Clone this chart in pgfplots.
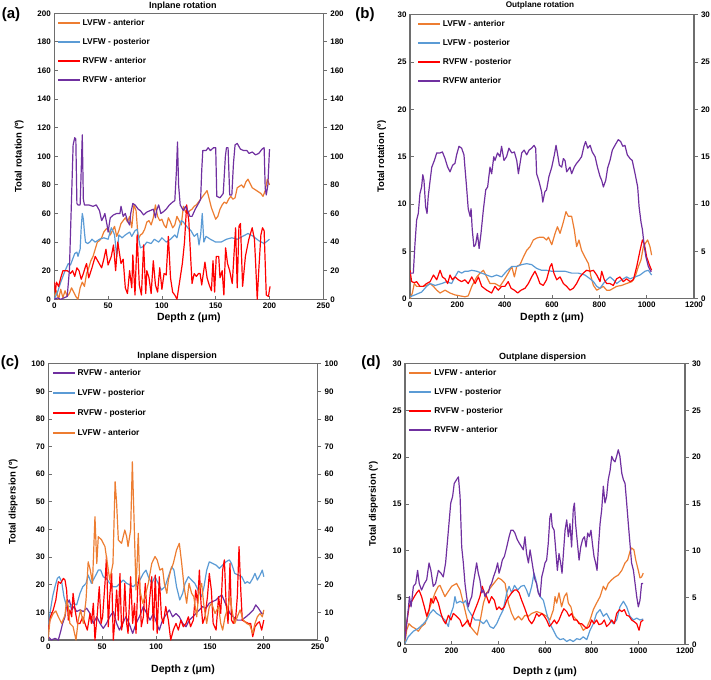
\documentclass[border=0pt]{standalone}
\usepackage{fontspec}
\setmainfont{Liberation Sans}
\usepackage{pgfplots}
\pgfplotsset{compat=1.18}
\definecolor{cOr}{RGB}{237,125,49}
\definecolor{cBl}{RGB}{91,155,213}
\definecolor{cRd}{RGB}{255,0,0}
\definecolor{cPu}{RGB}{112,48,160}
\definecolor{frm}{RGB}{110,110,110}
\pgfplotsset{
  base/.style={scale only axis, anchor=south west,
    axis line style={draw=frm, line width=1.1pt},
    tick style={draw=frm, line width=0.8pt},
    major tick length=3.5pt, tick align=inside,
    xtick pos=bottom, ytick pos=left,
    ticklabel style={font=\fontsize{8}{9}\selectfont\bfseries, text=black},
    /pgf/number format/assume math mode=true,
    /pgf/number format/1000 sep={},
    legend cell align=left,
    legend style={draw=none, fill=none, inner sep=0pt, font=\fontsize{8.4}{10}\selectfont\bfseries, row sep=9pt, column sep=2pt, nodes={inner sep=1pt, text height=6.2pt, text depth=1.8pt}},
    legend image code/.code={\fill[##1, draw=none] (0pt,-1pt) rectangle (22pt,1pt);},
    every axis plot/.append style={line width=1.2pt, no markers, line join=round},
    xlabel style={font=\fontsize{10.5}{12}\selectfont\bfseries, anchor=center},
    ylabel style={font=\fontsize{9.5}{11}\selectfont\bfseries, anchor=center},
  },
  rightax/.style={scale only axis, anchor=south west, hide x axis, axis y line*=right,
    axis line style={draw=frm, line width=1.1pt},
    tick style={draw=frm, line width=0.8pt},
    major tick length=3.5pt, tick align=outside,
    ticklabel style={font=\fontsize{8}{9}\selectfont\bfseries, text=black},
    /pgf/number format/assume math mode=true,
    /pgf/number format/1000 sep={},
  },
}
\begin{document}
\begin{tikzpicture}
\useasboundingbox (0,0) rectangle (711pt,679pt);
% ---------------- (a)
\begin{axis}[base, at={(54.3pt,379.7pt)}, width=269pt, height=286pt,
  xmin=0, xmax=250, ymin=0, ymax=200, xtick={0,50,...,250}, ytick={0,20,...,200},
  xlabel={Depth z (μm)}, xlabel style={at={(axis description cs:0.5,-0.065)}},
  ylabel={Total rotation (º)}, ylabel style={at={(axis description cs:-0.131,0.5)}},
  legend style={at={(axis description cs:0.012,0.984)}, anchor=north west}]
\addplot[cOr] coordinates {(0,2)(2,6)(4,0)(6,7)(8,1)(10,6)(12,2)(14,4)(16,8)(18,5)(20,2)(22,0)(24,8)(26,12)(28,9)(30,18)(32,22)(34,27)(36,30)(38,35)(40,40)(42,41)(44,43)(46,47)(48,49)(50,50)(52,45)(54,48)(56,51)(58,44)(60,48)(62,53)(64,55)(66,57)(68,54)(70,58)(72,50)(74,66)(76,62)(78,42)(80,45)(82,46)(84,49)(86,54)(88,55)(90,52)(92,57)(94,66)(96,58)(98,55)(100,56)(102,52)(104,50)(106,57)(108,54)(110,50)(112,52)(114,58)(116,55)(118,52)(120,65)(122,61)(124,60)(126,62)(128,63)(130,65)(132,66)(134,68)(136,70)(138,72)(140,74)(142,76)(144,70)(146,64)(148,60)(150,56)(152,58)(154,63)(156,66)(158,68)(160,67)(162,70)(164,72)(166,70)(168,71)(170,78)(172,79)(174,80)(176,78)(178,82)(180,84)(182,81)(184,78)(186,77)(188,76)(190,75)(192,74)(194,72)(196,76)(198,84)(200,80)};
\addlegendentry{LVFW - anterior}
\addplot[cBl] coordinates {(0,0)(3,5)(6,12)(8,16)(10,20)(13,25)(15,24)(17,28)(19,32)(21,33)(22,30)(24,35)(25,50)(26,60)(27,56)(28,47)(29,40)(31,39)(33,40)(35,42)(38,40)(42,42)(46,43)(50,42)(53,50)(55,47)(56,45)(58,30)(60,45)(63,43)(66,45)(70,47)(72,44)(75,48)(77,49)(79,40)(80,36)(83,37)(86,40)(90,39)(93,42)(97,40)(100,43)(104,40)(108,42)(112,45)(114,43)(116,50)(118,55)(120,54)(124,50)(127,48)(130,44)(133,46)(134.5,38)(136,45)(137.5,60)(139,40)(141,44)(145,42)(150,40)(155,40)(160,42)(165,43)(170,42)(175,44)(180,46)(185,44)(190,41)(195,39)(200,42)};
\addlegendentry{LVFW - posterior}
\addplot[cRd] coordinates {(0,12)(1,5)(2,12)(4,9)(6,15)(8,20)(10,20)(12,20)(14,19)(15,18)(17,20)(19,16)(21,22)(23,20)(25,14)(27,18)(29,23)(30,25)(32,15)(35,22)(38,30)(41,26)(44,22)(46,28)(48,35)(50,24)(53,30)(55,38)(57,20)(59,40)(62,25)(64,28)(66,8)(68,4)(70,20)(72,8)(73,31)(75,3)(77,45)(79,10)(81,3)(83,38)(85,4)(86,20)(88,15)(90,4)(92,27)(94,10)(96,5)(98,22)(100,7)(102,18)(104,17)(106,44)(108,15)(110,5)(112,3)(114,0)(117,15)(119,25)(121,40)(123,66)(125,55)(126,40)(128,11)(130,18)(132,16)(134,18)(135.5,18)(137,10)(140,26)(142,15)(144,10)(146,6)(147.5,27)(149,5)(150.5,30)(152.8,30)(154,15)(156,20)(157.6,3)(159.2,36)(161,25)(163,20)(165.4,11)(168.5,50)(170,8)(171.6,51)(173,53)(175,9)(177.6,30)(180.8,42)(183.9,50)(186,42)(187,27)(188.6,0)(190,20)(192,45)(193.5,50)(195,48)(197,3)(199,2)(200.5,9)};
\addlegendentry{RVFW - anterior}
\addplot[cPu] coordinates {(0,0)(3,1)(6,0)(9,1)(12,2)(14,20)(16,70)(17.5,108)(19,113)(20,112)(21,67)(22,66)(24,66)(25,90)(26,115)(27,70)(28,66)(32,66)(36,65)(39,66)(42,62)(44,55)(46,58)(47,60)(49,52)(50,47)(52,57)(55,59)(58,60)(61,60)(62,65)(64,58)(66,60)(68,55)(70,52)(71,60)(73,67)(75,66)(78,63)(80,62)(83,59)(86,61)(89,62)(92,63)(94,57)(95,62)(97,66)(99,60)(101,61)(104,63)(107,66)(110,68)(112,69)(113.5,90)(114.5,110)(115.5,80)(117,66)(120,62)(122,65)(124,62)(126,58)(128,58)(131,63)(134,67)(136,70)(137,90)(138,104)(141,104)(143,106)(145,104)(148,106)(150,106)(151,72)(154,71)(157,74)(159,100)(160,106)(161.5,106)(163,73)(165,73)(166.5,95)(168,108)(170,109)(173,105)(176,104)(179,104)(181,102)(184,103)(187,101)(190,102)(193,105)(195,106)(196,78)(197,73)(198.5,80)(200,105)};
\addlegendentry{RVFW - anterior}
\end{axis}
\begin{axis}[rightax, at={(54.3pt,379.7pt)}, width=269pt, height=286pt,
  xmin=0, xmax=250, ymin=0, ymax=200, ytick={0,20,...,200}]
\end{axis}
% ---------------- (b)
\begin{axis}[base, at={(410pt,380.3pt)}, width=284pt, height=284pt,
  xmin=0, xmax=1200, ymin=0, ymax=30, xtick={0,200,...,1200}, ytick={0,5,...,30},
  xlabel={Depth z (μm)}, xlabel style={at={(axis description cs:0.5,-0.067)}},
  ylabel={Total rotation (º)}, ylabel style={at={(axis description cs:-0.0997,0.5)}},
  legend style={at={(axis description cs:0.027,0.984)}, anchor=north west}]
\addplot[cOr] coordinates {(0,0)(10,0.6)(18,1.6)(28,1.3)(42,1.3)(56,1.3)(70,1.4)(85,1.6)(99,1.3)(113,0.9)(127,0.6)(148,0.9)(169,0.6)(190,0.4)(211,0.3)(232,0.2)(246,0.3)(261,1.3)(282,2.3)(296,2.7)(310,3.0)(324,2.3)(338,1.6)(359,1.6)(380,1.3)(401,2.1)(415,2.7)(430,3.4)(441,2.3)(451,3.4)(465,3.6)(479,4.4)(493,5.1)(507,5.5)(521,6.2)(535,6.4)(549,6.5)(563,6.5)(577,6.2)(585,6.5)(599,5.7)(613,6.9)(623,7.6)(634,6.9)(648,8.1)(659,9.2)(669,8.7)(683,8.7)(694,7.3)(704,5.5)(714,6.2)(725,5.1)(739,4.4)(754,3.7)(765,2.3)(775,1.4)(789,0.9)(803,1.1)(817,1.3)(831,0.9)(845,0.9)(859,1.1)(873,1.3)(894,1.4)(915,1.6)(937,1.8)(951,2.3)(965,3.4)(976,4.1)(986,5.5)(993,5.8)(1004,6.2)(1014,5.5)(1021,4.6)};
\addlegendentry{LVFW - anterior}
\addplot[cBl] coordinates {(0,0.2)(21,0.4)(49,0.7)(70,1.3)(85,1.6)(106,1.4)(134,1.6)(155,1.8)(176,1.6)(190,2.3)(204,2.9)(218,2.7)(232,2.9)(246,2.9)(261,3.0)(282,2.9)(303,2.7)(324,2.5)(345,2.3)(366,2.5)(387,2.3)(408,2.9)(430,3.4)(451,3.4)(472,3.6)(493,3.7)(514,3.6)(535,3.2)(556,3.0)(577,3.0)(599,2.9)(627,2.9)(655,2.9)(683,2.7)(711,2.7)(739,2.5)(761,2.1)(775,1.8)(789,1.3)(803,1.1)(817,1.6)(831,2.0)(845,2.3)(859,2.0)(873,1.6)(894,2.0)(915,2.3)(930,2.1)(951,2.3)(972,2.5)(993,2.9)(1007,3.0)(1021,2.5)};
\addlegendentry{LVFW - posterior}
\addplot[cRd] coordinates {(0,3.0)(7,1.8)(18,1.7)(28,1.8)(42,1.3)(56,1.3)(70,1.6)(85,1.8)(99,2.5)(113,2.0)(127,3.0)(137,2.3)(148,2.1)(159,1.6)(169,2.5)(179,2.0)(190,2.3)(204,2.0)(218,1.8)(232,2.0)(246,1.6)(261,2.3)(275,1.6)(289,2.3)(303,1.3)(324,0.9)(345,0.6)(359,1.3)(373,0.9)(387,1.3)(401,1.3)(415,1.8)(427,1.1)(441,0.9)(455,0.6)(469,0.9)(486,1.1)(500,1.6)(514,2.3)(528,2.9)(539,2.3)(549,1.6)(563,1.4)(577,2.0)(592,3.4)(599,3.7)(608,2.7)(620,2.0)(634,2.3)(648,1.6)(662,1.3)(676,0.9)(690,1.1)(704,1.6)(718,2.3)(732,2.7)(746,3.0)(761,2.9)(775,3.0)(789,2.5)(803,1.8)(810,2.9)(821,2.0)(831,1.6)(845,1.6)(859,1.4)(873,2.1)(887,2.3)(901,1.8)(915,2.1)(930,1.8)(944,2.0)(958,3.4)(972,5.1)(982,6.2)(990,5.8)(1000,4.4)(1014,3.4)(1021,3.0)};
\addlegendentry{RVFW - posterior}
\addplot[cPu] coordinates {(0,2.7)(14,2.7)(21,5.8)(28,8.3)(35,9)(42,11.1)(49,11.8)(54,13.1)(59,12.5)(66,9.7)(72,9)(77,10.8)(85,12.5)(92,13.9)(103,14.6)(113,15.4)(127,15.4)(137,15.5)(148,14.8)(159,13.9)(169,13.4)(180,14.1)(190,14.3)(197,15.2)(207,16.1)(218,15.9)(228,15.2)(232,13.9)(239,11.8)(246,9.5)(254,8.7)(258,9.5)(263,7.3)(270,5.5)(277,5.7)(285,6.9)(292,5.3)(300,6.9)(310,9.4)(320,11.5)(328,11.8)(338,13.9)(345,13.2)(354,15)(359,14.6)(370,15.4)(380,15)(387,16.1)(397,14.6)(408,15)(418,15.9)(430,15.4)(441,15.5)(451,14.6)(458,13.2)(465,14.3)(472,15.4)(482,15.7)(493,15.2)(503,15.7)(514,15.9)(524,16.2)(531,15.9)(535,13.2)(545,12.4)(556,11.3)(561,10.2)(570,11.3)(577,11.5)(587,12.9)(599,13.9)(610,15.2)(617,16.2)(624,15.2)(631,14.1)(641,13.9)(648,14.8)(655,14.6)(662,13.4)(676,13.9)(683,13.2)(694,13.9)(704,14.3)(714,14.6)(725,15)(735,16.1)(742,16.6)(751,15.9)(761,16.2)(770,15.5)(782,15)(792,13.9)(803,12.9)(810,12.5)(817,11.8)(827,12.5)(835,13.8)(845,14.6)(855,15.7)(866,16.2)(880,16.8)(890,16.6)(899,16.1)(908,16.2)(918,15.2)(930,14.8)(939,14.6)(951,13.2)(962,11.8)(968,9.7)(976,8.1)(982,7.3)(990,5.5)(997,4.4)(1007,3.4)(1017,2.9)(1021,2.9)};
\addlegendentry{RVFW anterior}
\end{axis}
\begin{axis}[rightax, at={(410pt,380.3pt)}, width=284pt, height=284pt,
  xmin=0, xmax=1200, ymin=0, ymax=30, ytick={0,5,...,30}]
\end{axis}
% ---------------- (c)
\begin{axis}[base, at={(48.3pt,39pt)}, width=269.4pt, height=276.3pt,
  xmin=0, xmax=250, ymin=0, ymax=100, xtick={0,50,...,250}, ytick={0,10,...,100},
  xlabel={Depth z (μm)}, xlabel style={at={(axis description cs:0.5,-0.109)}},
  ylabel={Total dispersion (º)}, ylabel style={at={(axis description cs:-0.13,0.5)}},
  legend style={at={(axis description cs:0.015,0.9855)}, anchor=north west, row sep=10pt}]
\addplot[cPu] coordinates {(0,1.2)(3,0)(6.2,0.6)(9.3,0)(11.4,3)(13.3,6)(15.5,8.4)(17,12.7)(19.5,14.5)(21.7,10.9)(23.8,12.1)(26.3,10.3)(29.4,10.9)(32.5,10.3)(35.6,11.5)(38.7,9.6)(41.8,6)(45,8.4)(48,6)(51,4.2)(54,6)(57,8.4)(60.3,10.3)(63.4,6)(66,3.6)(69,6)(72,8.4)(75,6)(78.3,2.4)(81.4,6)(84.5,8.4)(88.2,12.1)(91.3,9.6)(94.4,7.2)(97.5,9.6)(100.6,6)(103,3.6)(106,7.2)(109,9)(112.3,10.9)(115.4,8.4)(118.5,9.6)(121.6,8.4)(124.7,6)(127.8,4.8)(130.9,7.2)(134,8.4)(137,9.6)(140.2,10.9)(143.3,12.1)(146.3,11.5)(149.4,13.3)(152.5,13.9)(155.7,14.5)(158.8,15.7)(161,16.3)(163,14.5)(165.5,12.1)(168.6,9.6)(171.7,8.4)(175.4,7.2)(179.5,7.2)(183.5,8.4)(187,9.6)(190.3,10.9)(192.5,12.7)(195,11.5)(198,9.6)(200,9.6)};
\addlegendentry{RVFW - anterior}
\addplot[cBl] coordinates {(0,3.6)(1.5,9.6)(4,15.7)(6.2,19.3)(8.4,22.3)(10.2,22.9)(12.4,21.1)(14.5,15.7)(17,12.1)(20,12.1)(23,13.3)(26.3,12.7)(29.4,16.9)(32,19.3)(35,20.5)(37,23.5)(40,20.5)(43.3,22.9)(46.4,25.3)(48.6,25.3)(51,22.9)(54,22.3)(57,20.5)(60,19.3)(63.4,19.3)(66.5,20.5)(69.6,21.7)(72.7,20.5)(75.8,19.9)(79,19.3)(82,20.5)(85,21.7)(88.2,24.1)(90.7,25.3)(92.8,22.9)(96,20.5)(99,22.9)(102,20.5)(105,18.1)(108.3,19.3)(111.4,22.9)(114.5,26.5)(116.6,25.3)(119,19.3)(122,14.5)(124.7,16.9)(126.9,20.5)(130,22.9)(133,21.7)(136,20.5)(139,18.1)(142.3,15.7)(144.5,19.3)(147,25.3)(149.4,28.3)(152.5,27.7)(155.7,27.1)(158.8,25.9)(161.8,27.1)(164.9,28.3)(168,29)(170,27.7)(173,24.1)(176.4,23.5)(179.5,22.9)(182.5,20.5)(184.7,21.1)(187,20.5)(189.7,22.3)(191.8,24.1)(194,21.7)(196.5,23.5)(198.6,25.3)(200,22.9)};
\addlegendentry{LVFW - posterior}
\addplot[cRd] coordinates {(0,3.6)(2,8.4)(4.6,10.9)(7,14.5)(9.3,21.1)(11.4,20.5)(14,22.3)(15.5,21.7)(17,18.1)(18.6,7.2)(20,10.9)(21.7,8.4)(23,16.9)(24.8,10.9)(27,6)(29.4,6)(32,8.4)(34,6)(36.2,3.6)(38.7,9.6)(40,6)(41.8,13.3)(43.3,0)(45.5,9.6)(47.3,19.3)(49,6)(50.4,8.4)(52.6,20.5)(54,30.2)(55.7,4.8)(57,15.7)(58.8,24.1)(60.3,0)(62,8.4)(63.4,18.1)(65,7.2)(66.5,24.1)(68,3.6)(69.6,7.2)(71,20.5)(72.7,6)(74,2.4)(76.4,22.9)(78.3,6)(80,13.3)(81.4,2.4)(83,19.3)(84.5,23.5)(86.3,4.8)(88.2,8.4)(90,20.5)(92,6)(93.7,13.3)(96,22.9)(97.5,3.6)(99.3,23.5)(101,2.4)(103,22.9)(105,8.4)(106.7,6)(109,12.1)(111.4,7.2)(113.6,0)(116,3.6)(118.5,6)(120.7,3.6)(123,7.2)(125.3,4.8)(127.8,6)(130,8.4)(132,4.8)(134.6,7.2)(136.8,18.1)(138.6,13.3)(140.2,25.3)(141.7,13.3)(143.3,6)(145.4,8.4)(147.7,15.7)(149.4,24.1)(151.3,18.1)(153,6)(155.7,3.6)(158,15.7)(160,9.6)(161.8,25.3)(163.4,29)(165,13.3)(166.8,6)(168.6,27.7)(170,7.2)(171.7,6)(174,8.4)(175.4,15.7)(177,33.8)(178.6,18.1)(180,7.2)(182.5,6.6)(185.6,6)(187.8,6)(189.7,1.2)(191.8,4.8)(194,6)(195.9,6.6)(198,3.6)(200,7.2)};
\addlegendentry{RVFW - posterior}
\addplot[cOr] coordinates {(0,0.6)(1.5,7)(4.6,9.6)(7,10.5)(9.3,8.4)(12.4,6)(15.5,9)(17,14.5)(18.6,12)(20,6)(23,4.8)(25.7,0)(27.8,7.2)(30,10.9)(32.5,6)(35,14.5)(37,28.3)(39,25.3)(41,20.5)(43.3,44.6)(45,27.7)(46.4,37.4)(49.5,36.2)(52.6,33.8)(54.8,27.7)(57,21.7)(60,27.7)(62,57.3)(63.4,49.5)(65,36.2)(68,35)(71,39.8)(72.7,37.4)(74,33.8)(76.4,39.8)(78,64.5)(79.5,44.6)(81.4,18.1)(83.5,38.6)(85,18.1)(87.6,13.3)(89.7,15.7)(92.8,20.5)(96,27.7)(99,30.2)(101,29)(103.6,25.3)(106,25.9)(107.7,20.5)(110,16.9)(111.4,21.7)(113.6,25.3)(116,27.7)(119,32.6)(121.6,35)(123.8,27.7)(126,19.3)(128.4,13.3)(130.6,20.5)(133,16.9)(135,15.7)(137.7,8.4)(140,18.1)(142.3,20.5)(144.5,12.1)(147,6)(149.4,12.1)(151.6,13.3)(154.7,9.6)(158,12.1)(160,6)(161.8,3.6)(164,8.4)(166,10.9)(168.6,15.7)(171,9.6)(173,6)(175.4,8.4)(178,10.9)(181,7.2)(184,6)(187,5.4)(189.7,2.4)(191.8,6)(194,8.4)(196.5,9.6)(198.6,8.4)(200,10.9)};
\addlegendentry{LVFW - anterior}
\end{axis}
\begin{axis}[rightax, at={(48.3pt,39pt)}, width=269.4pt, height=276.3pt,
  xmin=0, xmax=250, ymin=0, ymax=100, ytick={0,10,...,100}]
\end{axis}
% ---------------- (d)
\begin{axis}[base, at={(405pt,34.7pt)}, width=280pt, height=280.6pt,
  xmin=0, xmax=1200, ymin=0, ymax=30, xtick={0,200,...,1200}, ytick={0,5,...,30},
  xlabel={Depth z (μm)}, xlabel style={at={(axis description cs:0.5,-0.098)}},
  ylabel={Total dispersion (º)}, ylabel style={at={(axis description cs:-0.113,0.5)}},
  legend style={at={(axis description cs:0.015,0.9836)}, anchor=north west}]
\addplot[cOr] coordinates {(0,0.1)(7,1.5)(17,2.2)(29,1.9)(43,1.7)(57,1.4)(71,1.9)(86,2.2)(100,3.3)(107,4.0)(129,5.5)(143,6.2)(150,6.3)(171,5.1)(200,6.2)(221,6.5)(236,5.8)(250,4.4)(271,2.2)(293,1.5)(310,1.0)(322,2.5)(336,4.4)(350,5.5)(371,6.2)(393,6.9)(400,7.1)(414,6.9)(429,6.5)(443,4.4)(457,3.3)(471,2.6)(486,3.0)(500,2.6)(514,3.1)(529,3.0)(543,3.3)(564,3.5)(586,3.3)(607,3.0)(621,2.6)(636,3.7)(643,5.1)(650,4.4)(660,5.5)(671,4.0)(683,5.1)(693,5.5)(700,4.4)(711,4.0)(721,3.0)(736,2.6)(750,2.2)(764,1.5)(779,1.8)(793,2.6)(807,3.7)(821,4.4)(836,5.1)(850,6.2)(860,5.8)(871,6.5)(886,6.9)(900,7.2)(914,7.4)(929,7.9)(943,8.7)(954,9.0)(964,9.9)(971,10.3)(981,10.1)(989,9.0)(1000,7.9)(1007,7.1)(1014,7.2)(1021,7.6)};
\addlegendentry{LVFW - anterior}
\addplot[cBl] coordinates {(0,0.1)(14,0.8)(36,1.4)(57,1.7)(79,2.2)(93,2.6)(107,3.3)(121,3.7)(136,3.3)(154,3.0)(171,2.6)(186,1.9)(193,3.0)(207,4.0)(214,5.1)(221,4.4)(236,4.6)(250,4.4)(260,4.7)(271,3.7)(286,3.1)(300,2.6)(317,2.6)(336,2.2)(350,2.6)(364,1.9)(379,1.7)(393,2.2)(407,3.0)(421,3.7)(436,5.5)(446,6.2)(457,5.5)(469,6.3)(483,5.8)(497,6.2)(511,6.3)(521,5.8)(531,5.1)(543,6.2)(553,7.6)(561,6.9)(569,5.8)(579,5.1)(593,4.7)(607,3.3)(621,2.2)(636,1.5)(650,0.8)(664,0.5)(679,0.6)(693,0.3)(707,0.5)(721,0.3)(736,0.6)(750,0.5)(764,0.8)(779,0.5)(793,1.5)(807,2.2)(821,3.3)(836,3.7)(850,3.0)(864,3.3)(879,2.6)(893,2.2)(907,2.6)(921,4.0)(936,4.6)(950,4.0)(964,3.0)(979,2.6)(993,2.8)(1007,2.6)(1021,2.7)};
\addlegendentry{LVFW - posterior}
\addplot[cRd] coordinates {(0,0.8)(7,2.2)(17,4.0)(29,4.6)(40,5.1)(50,5.5)(60,5.8)(71,5.1)(83,4.0)(93,3.0)(103,3.7)(111,4.9)(121,4.4)(131,5.1)(143,4.4)(154,3.3)(164,2.6)(174,2.2)(186,3.1)(197,2.6)(207,3.3)(221,3.0)(236,2.6)(246,1.9)(257,2.2)(269,2.6)(279,1.9)(289,3.0)(300,3.7)(311,4.4)(321,5.1)(331,6.2)(340,5.5)(350,5.1)(360,4.4)(371,5.1)(383,4.7)(393,3.7)(403,4.0)(414,3.7)(426,4.0)(436,4.7)(446,5.1)(457,5.5)(469,5.8)(479,5.8)(489,5.5)(500,4.7)(511,4.0)(521,3.3)(531,2.6)(543,2.2)(553,2.6)(564,3.3)(574,3.0)(586,3.3)(597,3.0)(607,2.6)(619,1.9)(629,2.2)(640,2.6)(650,2.2)(660,2.6)(671,3.3)(681,3.8)(693,3.5)(703,3.0)(714,3.3)(724,2.6)(736,2.6)(746,2.2)(757,2.2)(769,1.9)(779,1.7)(790,1.9)(800,2.6)(810,2.2)(821,2.6)(831,2.1)(843,2.2)(854,2.6)(864,1.9)(876,2.2)(886,2.6)(897,2.2)(907,3.3)(919,3.7)(929,3.5)(940,3.7)(950,3.1)(961,3.0)(971,2.6)(983,2.4)(993,2.2)(1003,1.5)(1011,2.4)(1021,2.6)};
\addlegendentry{RVFW - posterior}
\addplot[cPu] coordinates {(0,0.5)(7,2.2)(14,3.7)(19,5.1)(26,4.0)(36,6.2)(46,6.5)(54,7.9)(61,6.5)(71,5.8)(83,6.5)(93,6.9)(103,8.7)(111,7.9)(121,6.2)(131,6.5)(143,7.9)(154,7.6)(164,7.2)(174,8.7)(186,12.2)(196,15.1)(204,15.8)(211,17.2)(221,17.6)(229,17.9)(236,15.8)(243,10.4)(250,8.7)(257,6.5)(264,5.1)(271,4.0)(279,4.7)(286,5.1)(293,6.5)(300,7.6)(307,8.7)(314,7.6)(321,6.9)(329,5.5)(336,5.8)(343,5.1)(350,5.5)(357,5.5)(364,6.2)(371,6.5)(379,7.2)(389,7.9)(397,8.7)(403,7.6)(411,8.3)(417,9.0)(426,9.4)(436,10.4)(446,11.5)(454,12.2)(463,12.2)(471,11.9)(481,11.2)(490,10.8)(500,10.4)(507,10.1)(514,11.5)(521,9.7)(529,8.7)(536,10.1)(543,9.0)(550,7.9)(557,6.9)(564,6.5)(571,5.5)(579,5.1)(586,7.2)(593,7.9)(600,8.7)(607,9.0)(614,10.8)(621,13.6)(626,14.0)(631,12.6)(639,12.2)(646,10.1)(653,7.9)(660,9.7)(667,8.7)(673,7.6)(680,10.1)(686,12.2)(693,13.3)(700,11.5)(707,12.9)(714,10.4)(721,14.4)(726,15.1)(731,12.9)(739,10.8)(746,9.0)(753,10.4)(761,11.2)(769,11.5)(776,10.4)(783,11.9)(790,11.5)(797,12.2)(803,10.8)(810,9.4)(817,8.7)(823,7.9)(829,10.4)(836,12.9)(843,14.4)(850,16.9)(857,15.1)(864,15.8)(871,17.6)(879,18.6)(886,20.1)(893,19.7)(900,19.5)(907,20.1)(914,20.8)(921,20.1)(929,18.3)(936,17.6)(943,17.2)(950,15.1)(957,12.9)(964,10.8)(971,8.7)(979,7.9)(986,6.5)(993,5.1)(1000,4.0)(1007,4.7)(1014,6.5)(1021,6.5)};
\addlegendentry{RVFW - anterior}
\end{axis}
\begin{axis}[rightax, at={(405pt,34.7pt)}, width=280pt, height=280.6pt,
  xmin=0, xmax=1200, ymin=0, ymax=30, ytick={0,5,...,30}]
\end{axis}
% titles
\node[font=\fontsize{9}{10}\selectfont\bfseries] at (182.8pt,673pt) {Inplane rotation};
\node[font=\fontsize{8.2}{10}\selectfont\bfseries] at (540pt,674pt) {Outplane rotation};
\node[font=\fontsize{9}{10}\selectfont\bfseries] at (177.2pt,323pt) {Inplane dispersion};
\node[font=\fontsize{9}{10}\selectfont\bfseries] at (542.7pt,322.3pt) {Outplane dispersion};
% panel letters
\node[font=\fontsize{15}{16}\selectfont\bfseries] at (11pt,664pt) {(a)};
\node[font=\fontsize{15}{16}\selectfont\bfseries] at (365pt,664pt) {(b)};
\node[font=\fontsize{15}{16}\selectfont\bfseries] at (10pt,316pt) {(c)};
\node[font=\fontsize{15}{16}\selectfont\bfseries] at (371pt,316pt) {(d)};
\end{tikzpicture}
\end{document}
